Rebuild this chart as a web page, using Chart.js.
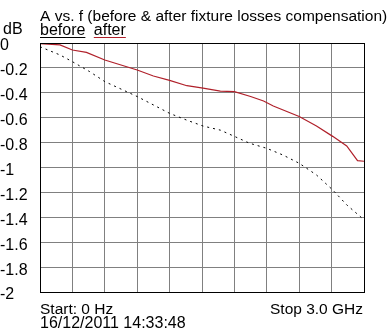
<!DOCTYPE html>
<html>
<head>
<meta charset="utf-8">
<script src="https://cdn.jsdelivr.net/npm/chart.js@4/dist/chart.umd.min.js"></script>
<style>
  html, body { margin: 0; padding: 0; background: #fff; }
  #wrap { width: 392px; height: 332px; position: relative; }
</style>
</head>
<body>
<div id="wrap"><canvas id="chart-af"></canvas></div>
<script>
// frequency in GHz
var freqAfter  = [0, 0.185, 0.3, 0.43, 0.6, 0.9, 1.05, 1.2, 1.36, 1.51, 1.67, 1.8, 1.95, 2.07, 2.16, 2.4, 2.56, 2.71, 2.84, 2.94, 3.0];
var after      = [-0.005, -0.015, -0.056, -0.075, -0.137, -0.217, -0.265, -0.30, -0.343, -0.362, -0.386, -0.39, -0.43, -0.466, -0.506, -0.59, -0.667, -0.75, -0.827, -0.945, -0.95];

var freqBefore = [0, 0.185, 0.3, 0.46, 0.6, 0.9, 1.2, 1.36, 1.51, 1.67, 1.8, 1.94, 2.1, 2.25, 2.4, 2.56, 2.71, 2.84, 3.0];
var before     = [-0.03, -0.096, -0.15, -0.23, -0.31, -0.43, -0.565, -0.62, -0.667, -0.70, -0.75, -0.805, -0.846, -0.90, -0.966, -1.06, -1.18, -1.30, -1.42];

var yTickLabels = ["-2", "-1.8", "-1.6", "-1.4", "-1.2", "-1", "-0.8", "-0.6", "-0.4", "-0.2", "0"];

var titleText = "A vs. f (before & after fixture losses compensation)";
var startText = "Start: 0 Hz";
var stopText = "Stop 3.0 GHz";
var dateText = "16/12/2011 14:33:48";

var FAM = "'Liberation Sans', Arial, sans-serif";

function toXY(xs, ys) {
	var out = [];
	for (let i = 0; i < xs.length; i++) out.push({ x: xs[i], y: ys[i] });
	return out;
}

// texte autour du graphe + cadre
var decor = {
	id: "decor",
	afterDraw: function(chart) {
		var c = chart.ctx, a = chart.chartArea;
		c.save();
		c.strokeStyle = "#000";
		c.lineWidth = 1;
		c.strokeRect(Math.round(a.left) + 0.5, Math.round(a.top) + 0.5, Math.round(a.right - a.left), Math.round(a.bottom - a.top));

		c.fillStyle = "#000";
		c.textBaseline = "alphabetic";
		c.textAlign = "left";
		c.font = "15.5px " + FAM;
		c.fillText(titleText, 40, 21);
		c.font = "16px " + FAM;
		c.fillText("dB", 3, 34);
		c.fillText("before", 40, 35);
		var wb = c.measureText("before ").width;
		c.fillText("after", 40 + wb + 4, 35);
		var w1 = c.measureText("before").width;
		var w2 = c.measureText("after").width;
		c.fillRect(40, 37, w1, 1);
		c.fillStyle = "#b0202a";
		c.fillRect(40 + wb + 4, 37, w2, 1);

		c.fillStyle = "#000";
		c.font = "15.5px " + FAM;
		c.fillText(startText, 40, 314);
		c.fillText(stopText, 270, 314);
		c.font = "16px " + FAM;
		c.fillText(dateText, 40, 328);
		c.restore();
	}
};

var ctxaf = document.getElementById("chart-af").getContext("2d");
new Chart(ctxaf, {
	type: "line",
	data: {
		datasets: [{
			label: "after",
			data: toXY(freqAfter, after),
			borderColor: "#b0202a",
			borderWidth: 1.2,
			pointRadius: 0,
			tension: 0,
			fill: false
		}, {
			label: "before",
			data: toXY(freqBefore, before),
			borderColor: "#000",
			borderWidth: 1,
			borderDash: [2, 4],
			pointRadius: 0,
			tension: 0,
			fill: false
		}]
	},
	options: {
		responsive: true,
		maintainAspectRatio: false,
		animation: false,
		layout: {
			padding: { left: 0, right: 28, top: 43, bottom: 40 }
		},
		plugins: {
			legend: { display: false },
			tooltip: { enabled: false }
		},
		scales: {
			x: {
				type: "linear",
				min: 0,
				max: 3,
				afterFit: function(s) { s.height = 0; },
				afterBuildTicks: function(s) {
					var t = [];
					for (let i = 0; i <= 10; i++) t.push({ value: i * 0.3 });
					s.ticks = t;
				},
				grid: {
					color: "#808080",
					drawTicks: false,
					lineWidth: 1
				},
				border: { display: false },
				ticks: { display: false }
			},
			y: {
				min: -2,
				max: 0,
				afterFit: function(s) { s.width = 40; },
				grid: {
					color: "#808080",
					drawTicks: false,
					lineWidth: 1
				},
				border: { display: false },
				ticks: {
					stepSize: 0.2,
					crossAlign: "far",
					padding: 2,
					labelOffset: 3,
					color: "#000",
					font: { size: 16, family: FAM },
					callback: function(v, i) { return yTickLabels[i]; }
				}
			}
		}
	},
	plugins: [decor]
});
</script>
</body>
</html>
